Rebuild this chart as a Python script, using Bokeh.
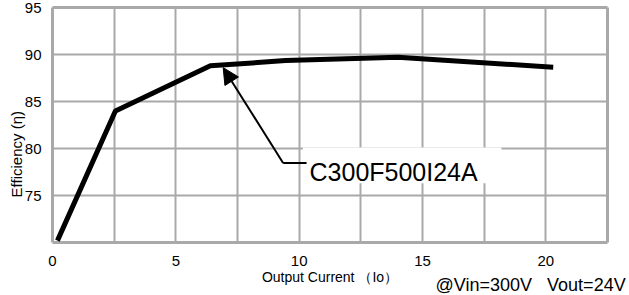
from bokeh.plotting import figure
from bokeh.models import FixedTicker, Range1d, Arrow, NormalHead, Label, Grid
from bokeh.embed import file_html
from bokeh.resources import INLINE

# ---- data ----
output_current = [0.2, 2.55, 6.4, 9.45, 14.0, 20.3]
efficiency = [70.2, 84.0, 88.8, 89.35, 89.7, 88.65]

x_tick_values = [0, 5, 10, 15, 20]
x_grid_values = [2.5, 5, 7.5, 10, 12.5, 15, 17.5, 20]
y_tick_values = [75, 80, 85, 90, 95]
y_grid_values = [75, 80, 85, 90]

X_MIN, X_MAX = 0, 22.5
Y_MIN, Y_MAX = 70, 95

model_name = "C300F500I24A"
x_label = "Output Current \uff08Io\uff09"
y_label = "Efficiency (\u03b7)"
condition_text = "@Vin=300V\u00a0\u00a0\u00a0Vout=24V"

# annotation anchor points (data units)
arrow_tip = (6.92, 88.6)
arrow_base = (9.35, 78.45)
connector_end_x = 10.3
label_pos = (10.42, 77.55)
label_box = (10.15, 18.2, 76.3, 80.1)  # left, right, bottom, top
condition_pos = (15.53, 65.45)
y_label_pos = (-1.46, 74.8)

GRID = "#a9a9a9"
FONT = "Liberation Sans"

# The frame fills the whole canvas so that no text around the chart box is clipped;
# the chart box itself is 0..22.5 x 70..95.
p = figure(width=629, height=295, x_range=Range1d(-2.108, 23.392), y_range=Range1d(64.362, 95.745),
           output_backend="svg", toolbar_location=None,
           min_border_left=0, min_border_right=0, min_border_top=0, min_border_bottom=0)
p.background_fill_color = "white"
p.border_fill_color = "white"
p.outline_line_color = None

p.xaxis.ticker = FixedTicker(ticks=x_tick_values)
p.yaxis.ticker = FixedTicker(ticks=y_tick_values)
p.xaxis.fixed_location = Y_MIN
p.yaxis.fixed_location = X_MIN
p.xaxis.bounds = (X_MIN, X_MAX)
p.yaxis.bounds = (Y_MIN, Y_MAX)

p.xgrid.ticker = FixedTicker(ticks=x_grid_values)
p.xgrid.cross_bounds = (Y_MIN, Y_MAX)
p.ygrid.ticker = FixedTicker(ticks=y_grid_values)
p.ygrid.cross_bounds = (X_MIN, X_MAX)
for g in (p.xgrid, p.ygrid):
    g.grid_line_color = GRID
    g.grid_line_width = 2

# chart box edges
p.add_layout(Grid(dimension=0, ticker=FixedTicker(ticks=[X_MIN, X_MAX]), bounds=(-2, 23.3),
                  cross_bounds=(Y_MIN, Y_MAX), grid_line_color=GRID, grid_line_width=3))
p.add_layout(Grid(dimension=1, ticker=FixedTicker(ticks=[Y_MIN, Y_MAX]), bounds=(64.5, 95.7),
                  cross_bounds=(X_MIN, X_MAX), grid_line_color=GRID, grid_line_width=3))

for ax in (p.xaxis, p.yaxis):
    ax.axis_line_color = None
    ax.major_tick_line_color = None
    ax.minor_tick_line_color = None
    ax.major_label_text_font = FONT
    ax.major_label_text_color = "black"
    ax.axis_label_text_font = FONT
    ax.axis_label_text_font_style = "normal"
    ax.axis_label_text_color = "black"

p.xaxis.major_label_text_font_size = "15px"
p.xaxis.major_label_standoff = 7
p.xaxis.axis_label = x_label
p.xaxis.axis_label_text_font_size = "14px"
p.xaxis.axis_label_standoff = 0

p.yaxis.major_label_text_font_size = "15px"
p.yaxis.major_label_standoff = 5

# white box behind model label
p.quad(left=[label_box[0]], right=[label_box[1]], bottom=[label_box[2]], top=[label_box[3]],
       fill_color="white", line_color=None)

# efficiency curve
p.line(output_current, efficiency, line_color="black", line_width=5)

# arrow + connector
p.add_layout(Arrow(end=NormalHead(size=16, fill_color="black", line_color="black"),
                   x_start=arrow_base[0], y_start=arrow_base[1],
                   x_end=arrow_tip[0], y_end=arrow_tip[1],
                   line_color="black", line_width=2))
p.segment(x0=[arrow_base[0]], y0=[arrow_base[1]], x1=[connector_end_x], y1=[arrow_base[1]],
          line_color="black", line_width=2)

p.add_layout(Label(x=label_pos[0], y=label_pos[1], text=model_name,
                   text_font=FONT, text_font_size="25px",
                   text_baseline="alphabetic", text_color="black"))

p.add_layout(Label(x=condition_pos[0], y=condition_pos[1], text=condition_text,
                   text_font=FONT, text_font_size="18px",
                   text_baseline="alphabetic", text_color="black"))

p.add_layout(Label(x=y_label_pos[0], y=y_label_pos[1], text=y_label, angle=1.5708,
                   text_font=FONT, text_font_size="15px",
                   text_align="left", text_baseline="middle", text_color="black"))

open("out.html", "w").write(file_html(p, INLINE))
